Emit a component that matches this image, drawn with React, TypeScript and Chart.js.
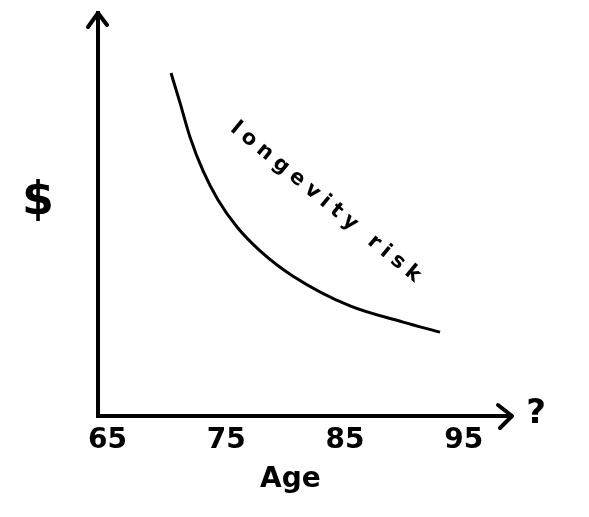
import React, { useEffect, useRef } from "react";
import { Chart, registerables } from "chart.js";

Chart.register(...registerables);

// Age (years) along the hand-drawn curve
const ages = [70.35, 71.11, 71.95, 73.05, 74.31, 75.91, 77.85, 80.63, 85.43, 89.9, 93.01];
// Relative $ amount (0-100 scale, unlabelled axis)
const dollars = [85.1, 77.7, 69.2, 60.8, 53.6, 46.9, 41.0, 34.7, 27.3, 23.3, 20.8];
// X tick labels
const tickAges = [65, 75, 85, 95];

const xTitle = "Age";
const yTitle = "$";
const curveLabel = "longevity risk";
const axisEndLabel = "?";

const FONT = "'DejaVu Sans', sans-serif";

const sketchPlugin = {
  id: "sketch",
  afterDraw(chart: any) {
    const { ctx, chartArea: a, scales } = chart;
    const xs = scales.x;
    const ys = scales.y;
    ctx.save();
    ctx.strokeStyle = "#000";
    ctx.fillStyle = "#000";
    ctx.lineWidth = 4;
    ctx.lineCap = "round";
    ctx.lineJoin = "round";

    // y-axis arrowhead
    ctx.beginPath();
    ctx.moveTo(a.left - 10, a.top + 14);
    ctx.lineTo(a.left, a.top);
    ctx.lineTo(a.left + 9, a.top + 12);
    ctx.stroke();

    // x-axis arrowhead
    const tipX = a.right + 2;
    ctx.beginPath();
    ctx.moveTo(tipX - 14, a.bottom - 11);
    ctx.lineTo(tipX, a.bottom);
    ctx.lineTo(tipX - 12, a.bottom + 12);
    ctx.stroke();

    ctx.textAlign = "center";
    ctx.textBaseline = "middle";

    // "?" at the end of the x axis
    ctx.font = `bold 34px ${FONT}`;
    ctx.fillText(axisEndLabel, a.right + 26, a.bottom - 2);

    // "Age" axis title
    ctx.font = `bold 28px ${FONT}`;
    ctx.fillText(xTitle, xs.getPixelForValue(80.4), a.bottom + 64);

    // "$" y-axis label (unrotated)
    ctx.font = `bold 46px ${FONT}`;
    ctx.fillText(yTitle, a.left - 60, ys.getPixelForValue(53));

    // rotated curve label
    const px = xs.getPixelForValue(83.3);
    const py = ys.getPixelForValue(53.2);
    ctx.translate(px, py);
    ctx.rotate((39.5 * Math.PI) / 180);
    ctx.font = `bold 21px ${FONT}`;
    (ctx as any).letterSpacing = "6px";
    ctx.fillText(curveLabel, 4, 0);
    ctx.restore();
  },
};

export default function App() {
  const ref = useRef<HTMLCanvasElement | null>(null);

  useEffect(() => {
    if (!ref.current) return;
    const chart = new Chart(ref.current, {
      type: "line",
      data: {
        datasets: [
          {
            data: ages.map((a, i) => ({ x: a, y: dollars[i] })),
            borderColor: "#000",
            borderWidth: 3,
            pointRadius: 0,
            fill: false,
            cubicInterpolationMode: "monotone",
          },
        ],
      },
      options: {
        animation: false,
        responsive: true,
        maintainAspectRatio: false,
        layout: { padding: { left: 0, top: 13, right: 79, bottom: 0 } },
        plugins: { legend: { display: false }, tooltip: { enabled: false } },
        scales: {
          x: {
            type: "linear",
            min: 64.2,
            max: 98.9,
            afterBuildTicks: (s: any) => {
              s.ticks = tickAges.map((v) => ({ value: v }));
            },
            afterFit: (s: any) => {
              s.height = 101;
            },
            grid: { display: false, drawTicks: false },
            border: { display: true, color: "#000", width: 4 },
            ticks: {
              color: "#000",
              padding: 8,
              maxRotation: 0,
              autoSkip: false,
              font: { family: FONT, size: 28, weight: "bold" },
            },
            title: { display: false, text: xTitle },
          },
          y: {
            type: "linear",
            min: 0,
            max: 100,
            afterFit: (s: any) => {
              s.width = 98;
            },
            grid: { display: false, drawTicks: false },
            border: { display: true, color: "#000", width: 4 },
            ticks: { display: false },
          },
        },
      },
      plugins: [sketchPlugin],
    } as any);
    return () => chart.destroy();
  }, []);

  return (
    <div style={{ position: "absolute", left: 0, top: 0, width: 589, height: 517, background: "#fff" }}>
      <canvas ref={ref} />
    </div>
  );
}
